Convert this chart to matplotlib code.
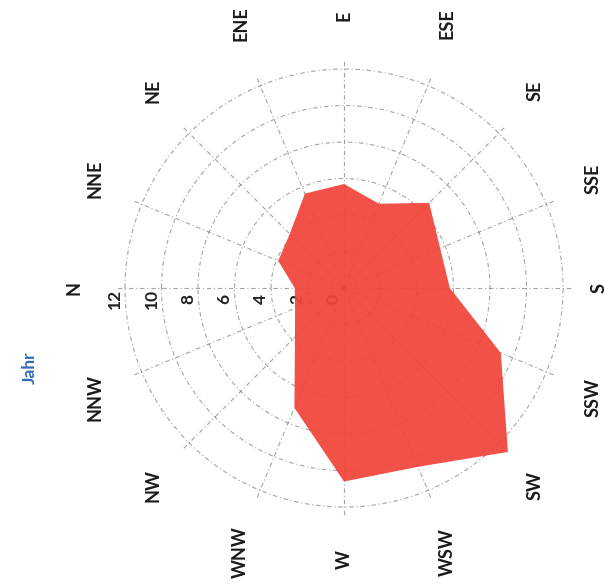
import numpy as np
import matplotlib

matplotlib.use("Agg")
import matplotlib.pyplot as plt

# wind direction frequency (%) (rotated 90 deg)
directions = ["N", "NNE", "NE", "ENE", "E", "ESE", "SE", "SSE",
              "S", "SSW", "SW", "WSW", "W", "WNW", "NW", "NNW"]
frequency = [2.7, 3.9, 4.2, 5.6, 5.7, 5.0, 6.6, 5.7,
             5.8, 9.3, 12.7, 10.6, 10.6, 7.1, 3.8, 2.9]
ring_values = [0, 2, 4, 6, 8, 10, 12]
title = "Jahr"

plt.rcParams["font.family"] = ["Lato", "DejaVu Sans"]

fig = plt.figure(figsize=(6.11, 5.86), dpi=100)
ax = fig.add_axes([0.1836, 0.1129, 0.7588, 0.7911], projection="polar")
ax.set_theta_zero_location("W")
ax.set_theta_direction(-1)
ax.set_ylim(0, 12.7)
ax.axis("off")

theta = np.deg2rad(np.arange(len(directions)) * 360 / len(directions))
fine = np.linspace(0, 2 * np.pi, 721)
grid_style = dict(color="#666666", lw=0.8, ls=(0, (4, 2.5, 1, 2.5)), alpha=0.6, zorder=1)
for v in ring_values[1:]:
    ax.plot(fine, np.full_like(fine, v), **grid_style)
for t in theta:
    ax.plot([t, t], [0, 12.5], **grid_style)

tt = np.append(theta, theta[0])
vv = np.append(frequency, frequency[0])
ax.fill(tt, vv, color="#f2443a", alpha=0.93, lw=0, zorder=3)

for v in ring_values:
    ax.annotate(str(v), xy=(0, v), xytext=(-10, -11), textcoords="offset pixels",
                rotation=90, ha="center", va="center", fontsize=12.5,
                fontweight="bold", color="#222222", zorder=2)

# category labels: pushed out by half their (rotated) extent
for t, name in zip(theta, directions):
    ux, uy = -np.cos(t), np.sin(t)
    r_lab = 14.4
    hw, hh = 7, 7 * len(name) + 2
    if name == "S":
        r_lab, hw = 14.0, 0
    ax.annotate(name, xy=(t, r_lab), xytext=(hw * ux, hh * uy),
                textcoords="offset pixels", rotation=90, ha="center", va="center",
                fontsize=13, fontweight="bold", color="#1a1a1a", annotation_clip=False)

fig.text(30 / 611, 1 - 368 / 586, title, rotation=90, ha="center", va="center",
         fontsize=12.5, fontweight="bold", color="#2f6eb5")

fig.savefig("out.png", dpi=100)
